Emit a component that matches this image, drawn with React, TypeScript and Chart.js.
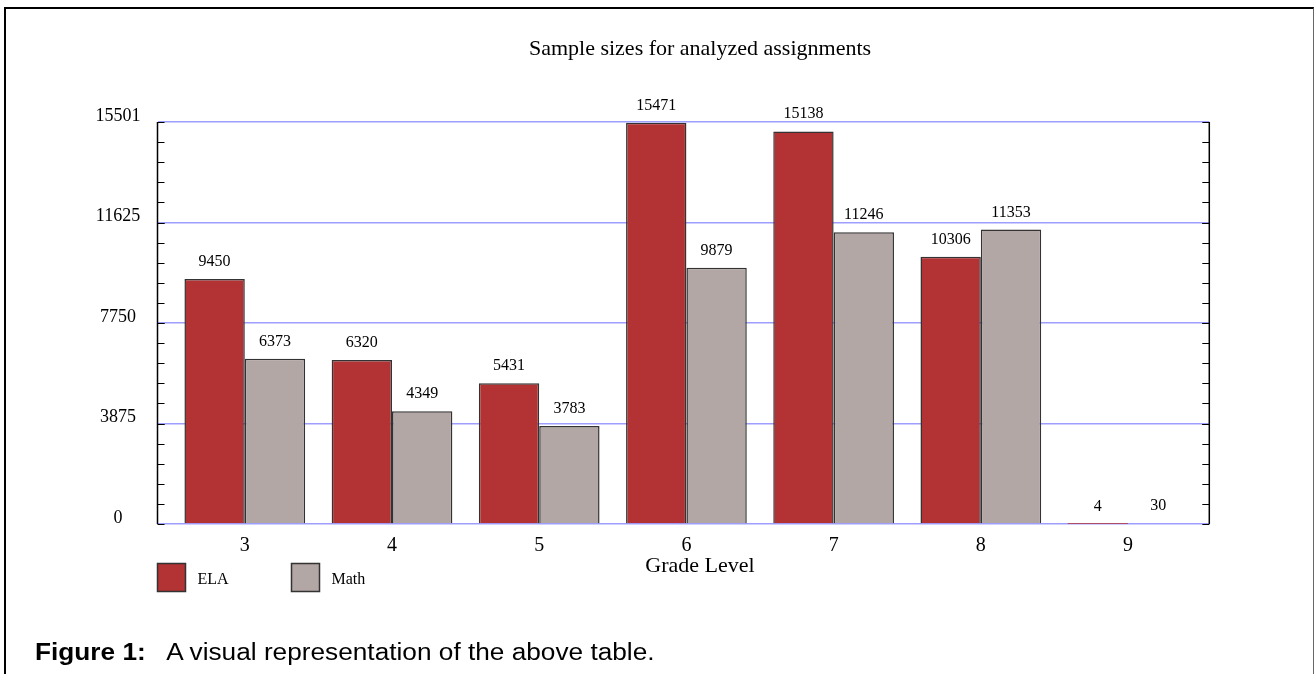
import React, { useEffect, useRef } from 'react';
import { Chart, registerables } from 'chart.js';

Chart.register(...registerables);

// ---- data ----
const categories = ['3', '4', '5', '6', '7', '8', '9'];
const elaValues = [9450, 6320, 5431, 15471, 15138, 10306, 4];
const mathValues = [6373, 4349, 3783, 9879, 11246, 11353, 30];
const yTickValues = [0, 3875, 7750, 11625, 15501];
const seriesNames = ['ELA', 'Math'];
const chartTitle = 'Sample sizes for analyzed assignments';
const xAxisTitle = 'Grade Level';
const captionBold = 'Figure 1:';
const captionText = 'A visual representation of the above table.';

// ---- styles ----
const SERIF = "'Liberation Serif', 'Times New Roman', serif";
const colors = ['rgb(179,50,52)', 'rgb(179,167,165)'];
const barBorder = '#333333';
const gridBlue = '#9e9eff';

const decorPlugin = {
  id: 'decor',
  afterDraw(chart: any) {
    const ctx = chart.ctx;
    const { left, right, top, bottom } = chart.chartArea;
    const y = chart.scales.y;
    ctx.save();

    // axis lines
    ctx.strokeStyle = '#000';
    ctx.lineWidth = 1.5;
    ctx.beginPath();
    ctx.moveTo(left, top);
    ctx.lineTo(left, bottom);
    ctx.moveTo(right, top);
    ctx.lineTo(right, bottom);
    ctx.stroke();

    // inward tick marks (major + 4 minor)
    ctx.lineWidth = 1;
    ctx.beginPath();
    for (let i = 0; i < yTickValues.length - 1; i++) {
      const a = yTickValues[i];
      const b = yTickValues[i + 1];
      for (let k = 0; k <= 5; k++) {
        const py = Math.round(y.getPixelForValue(a + ((b - a) * k) / 5)) + 0.5;
        ctx.moveTo(left, py);
        ctx.lineTo(left + 7, py);
        ctx.moveTo(right - 7, py);
        ctx.lineTo(right, py);
      }
    }
    ctx.stroke();

    // value labels
    ctx.fillStyle = '#000';
    ctx.font = `16px ${SERIF}`;
    ctx.textAlign = 'center';
    ctx.textBaseline = 'alphabetic';
    chart.data.datasets.forEach((ds: any, di: number) => {
      const meta = chart.getDatasetMeta(di);
      meta.data.forEach((el: any, i: number) => {
        const v = ds.data[i].y;
        ctx.fillText(String(v), el.x, el.y - 13);
      });
    });

    // title
    ctx.font = `22px ${SERIF}`;
    ctx.fillText(chartTitle, 700, 55);

    // x-axis title
    ctx.fillText(xAxisTitle, 700, 572);

    // legend
    ctx.textAlign = 'left';
    ctx.font = `16px ${SERIF}`;
    chart.data.datasets.forEach((ds: any, di: number) => {
      const x0 = 157.5 + di * 134;
      ctx.fillStyle = ds.backgroundColor;
      ctx.fillRect(x0, 563.5, 28, 28);
      ctx.strokeStyle = barBorder;
      ctx.lineWidth = 1.5;
      ctx.strokeRect(x0, 563.5, 28, 28);
      ctx.fillStyle = '#000';
      ctx.fillText(ds.label, x0 + 40, 584);
    });

    ctx.restore();
  },
};

export default function App() {
  const canvasRef = useRef<HTMLCanvasElement | null>(null);

  useEffect(() => {
    const canvas = canvasRef.current;
    if (!canvas) return;
    const xs = categories.map(Number);
    const chart = new Chart(canvas, {
      type: 'bar',
      data: {
        datasets: [elaValues, mathValues].map((vals, di) => ({
          label: seriesNames[di],
          data: vals.map((v, i) => ({ x: xs[i], y: v })),
          backgroundColor: colors[di],
          borderColor: barBorder,
          borderWidth: (c: any) => (c.parsed && c.parsed.y < 100 ? 0 : 1.5),
          categoryPercentage: 0.82,
          barPercentage: 1,
        })),
      },
      options: {
        responsive: false,
        devicePixelRatio: 1,
        animation: false,
        layout: { padding: { top: 122, right: 104.7, bottom: 110, left: 0 } },
        plugins: {
          legend: { display: false },
          title: { display: false },
          tooltip: { enabled: false },
        },
        scales: {
          x: {
            type: 'linear',
            offset: false,
            min: 2.407,
            max: 9.552,
            afterBuildTicks: (s: any) => {
              s.ticks = xs.map((v) => ({ value: v }));
            },
            afterFit: (s: any) => {
              s.height = 40;
            },
            ticks: {
              autoSkip: false,
              maxRotation: 0,
              padding: 10,
              color: '#000',
              font: { family: SERIF, size: 20 },
              callback: (v: any) => String(v),
            },
            grid: { display: false, drawTicks: false, offset: false },
            border: { display: false },
          },
          y: {
            min: 0,
            max: 15501,
            afterBuildTicks: (s: any) => {
              s.ticks = yTickValues.map((v) => ({ value: v }));
            },
            afterFit: (s: any) => {
              s.width = 157.5;
            },
            ticks: {
              padding: 17,
              crossAlign: 'center',
              labelOffset: -6,
              color: '#000',
              font: { family: SERIF, size: 18 },
              callback: (v: any) => String(v),
            },
            grid: { color: gridBlue, lineWidth: 1.5, drawTicks: false },
            border: { display: false },
          },
        },
      },
      plugins: [decorPlugin],
    } as any);
    return () => chart.destroy();
  }, []);

  return (
    <div
      style={{
        position: 'fixed',
        left: 0,
        top: 0,
        width: 1314,
        height: 674,
        background: '#fff',
        overflow: 'hidden',
      }}
    >
      <div
        style={{
          position: 'absolute',
          left: 4,
          top: 7,
          width: 1307,
          height: 720,
          borderLeft: '2px solid #000',
          borderTop: '2px solid #000',
          borderRight: '1px solid #666',
        }}
      />
      <canvas
        ref={canvasRef}
        width={1314}
        height={674}
        style={{ position: 'absolute', left: 0, top: 0 }}
      />
      <div
        style={{
          position: 'absolute',
          left: 35,
          top: 640.5,
          fontFamily: "'Liberation Sans', Arial, sans-serif",
          fontSize: 23,
          lineHeight: '23px',
          whiteSpace: 'pre',
          color: '#000',
          transform: 'scaleX(1.14)',
          transformOrigin: '0 0',
        }}
      >
        <b>{captionBold}</b>
        <span style={{ marginLeft: 18 }}>{captionText}</span>
      </div>
    </div>
  );
}
